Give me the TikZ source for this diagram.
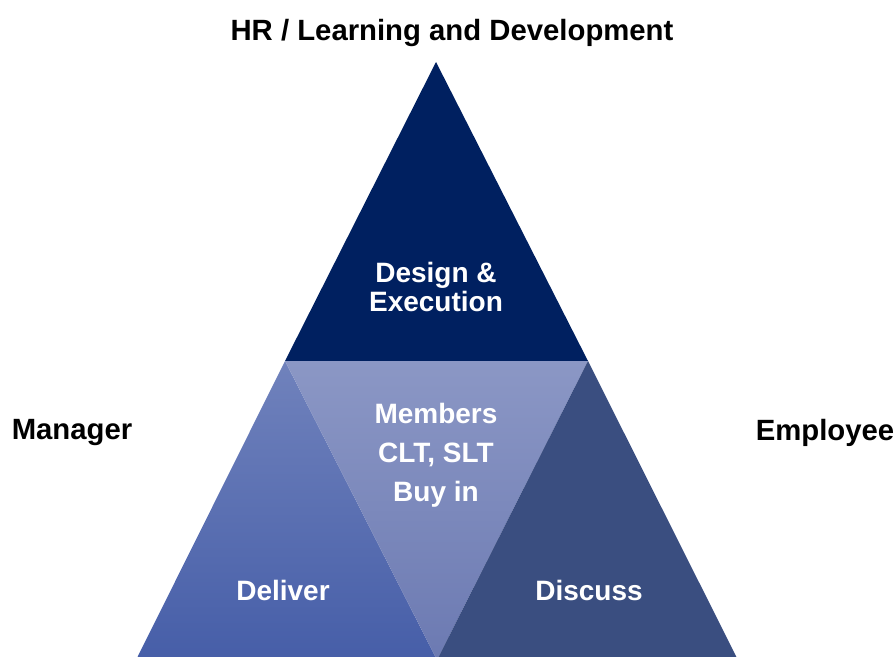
\documentclass[tikz,border=0pt]{standalone}
\usepackage{fontspec}
\setmainfont{Liberation Sans}
\usetikzlibrary{calc}
\definecolor{designcolor}{RGB}{0,32,96}
\definecolor{delivertop}{RGB}{112,130,188}
\definecolor{deliverbot}{RGB}{70,94,168}
\definecolor{memberstop}{RGB}{139,151,197}
\definecolor{membersbot}{RGB}{108,122,178}
\definecolor{discusscolor}{RGB}{58,78,128}

\begin{document}
\begin{tikzpicture}[
    x=1pt, y=-1pt,
    heading/.style={font=\fontsize{29.3}{31}\selectfont\bfseries, text=black},
    inner/.style={font=\fontsize{28}{29}\selectfont\bfseries, text=white, align=center},
    stack/.style={inner, font=\fontsize{28}{39}\selectfont\bfseries}
]
\useasboundingbox (0,0) rectangle (894,656);
\clip (0,0) rectangle (894,656);

% Corner points of the pyramid
\coordinate (apex) at (436,62);
\coordinate (midL) at (285,361);
\coordinate (midR) at (588,361);
\coordinate (baseL) at (136,660);
\coordinate (baseM) at (437,660);
\coordinate (baseR) at (738,660);

% Four sub-triangles
\fill[designcolor] (apex) -- (midL) -- (midR) -- cycle;
\shade[top color=delivertop, bottom color=deliverbot] (midL) -- (baseL) -- (baseM) -- cycle;
\shade[top color=memberstop, bottom color=membersbot] (midL) -- (midR) -- (baseM) -- cycle;
\fill[discusscolor] (midR) -- (baseM) -- (baseR) -- cycle;

% Labels inside
\node[inner] (design) at (436,286.5) {Design \&\\Execution};
\node[stack] (members) at (436,455) {Members\\CLT, SLT\\Buy in};
\node[inner] (deliver) at (283,590) {Deliver};
\node[inner] (discuss) at (589,590) {Discuss};

% Labels outside
\node[heading] (hr) at (452,33) {HR / Learning and Development};
\node[heading] (manager) at (72,433) {Manager};
\node[heading] (employee) at (825,433) {Employee};
\end{tikzpicture}
\end{document}
